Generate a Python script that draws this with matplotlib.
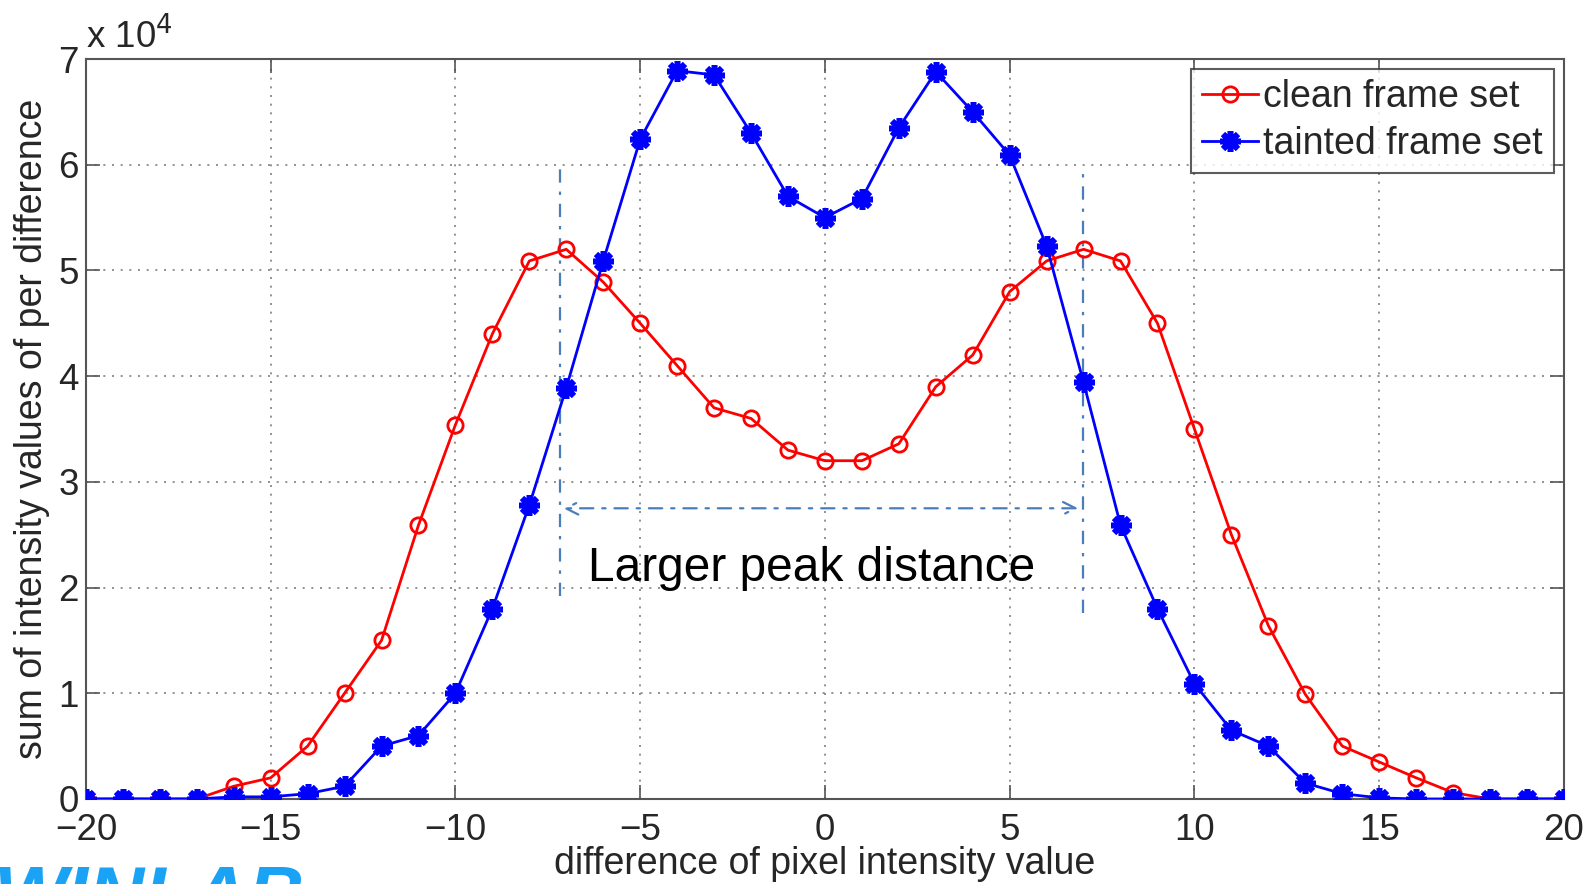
import matplotlib
matplotlib.use("Agg")
import matplotlib.pyplot as plt
import numpy as np

plt.rcParams['font.family'] = ['Liberation Sans', 'DejaVu Sans']

x_vals = list(range(-20, 21))
clean = [0, 0, 0, 0, 0.12, 0.2, 0.5, 1.0, 1.5, 2.59, 3.54, 4.4, 5.09, 5.2, 4.89,
         4.5, 4.1, 3.7, 3.6, 3.3, 3.2, 3.2, 3.36, 3.9, 4.2, 4.8, 5.09, 5.2, 5.09,
         4.5, 3.5, 2.5, 1.64, 0.99, 0.5, 0.35, 0.2, 0.06, 0, 0, 0]
tainted = [0, 0, 0, 0, 0.02, 0.02, 0.05, 0.12, 0.5, 0.6, 1.0, 1.8, 2.78, 3.89, 5.09,
           6.24, 6.89, 6.85, 6.3, 5.7, 5.5, 5.68, 6.35, 6.88, 6.5, 6.09, 5.23, 3.94,
           2.59, 1.8, 1.09, 0.65, 0.5, 0.15, 0.05, 0.01, 0, 0, 0, 0, 0]
x_ticks = [-20, -15, -10, -5, 0, 5, 10, 15, 20]
y_ticks = [0, 1, 2, 3, 4, 5, 6, 7]
series_labels = ["clean frame set", "tainted frame set"]
annot_text = "Larger peak distance"
left_peak_x, right_peak_x = -7.17, 6.98
left_line_y = (1.92, 6.0)
right_line_y = (1.76, 5.96)
arrow_y = 2.75
arrow_x = (-7.08, 6.85)

fig = plt.figure(figsize=(15.91, 8.84), dpi=100)
ax = fig.add_axes([0.054, 0.0962, 0.929, 0.837])

txt_col = '#262626'
ax.plot(x_vals, clean, color='#ff0000', lw=2.0, marker='o', ms=11,
        mfc='none', mec='#ff0000', mew=2.0, label=series_labels[0], zorder=3)
ax.plot(x_vals, tainted, color='#0000ff', lw=2.0, marker=(8, 2, 0), ms=15,
        mec='#0000ff', mew=4.0, label=series_labels[1], zorder=4)

ax.set_xlim(-20, 20)
ax.set_ylim(0, 7)
ax.set_xticks(x_ticks)
ax.set_yticks(y_ticks)
ax.set_xticklabels([('\u2212' + str(abs(t))) if t < 0 else str(t) for t in x_ticks])
ax.set_yticklabels([str(t) for t in y_ticks])
ax.tick_params(direction='in', length=10, width=1.2, top=True, right=True,
               labelsize=26.5, colors='#555555', labelcolor=txt_col)
ax.tick_params(axis='x', pad=10)
ax.tick_params(axis='y', pad=5)
for s in ax.spines.values():
    s.set_color('#555555')
    s.set_linewidth(1.5)
ax.grid(True, color='#808080', linestyle=(0, (1.2, 4)), linewidth=1.2)

ax.set_xlabel("difference of pixel intensity value", fontsize=27, color=txt_col, labelpad=-1)
ax.set_ylabel("sum of intensity values of per difference", fontsize=27, color=txt_col, labelpad=6)

ax.text(0.0, 1.004, "x 10$^{4}$", transform=ax.transAxes, fontsize=26.5,
        color=txt_col, ha='left', va='bottom')

ann_col = '#4a7ebb'
ax.plot([left_peak_x, left_peak_x], left_line_y, color=ann_col, lw=1.6,
        linestyle=(0, (6, 4, 1.5, 4)), zorder=2)
ax.plot([right_peak_x, right_peak_x], right_line_y, color=ann_col, lw=1.6,
        linestyle=(0, (6, 4, 1.5, 4)), zorder=2)
ax.annotate('', xy=(arrow_x[0], arrow_y), xytext=(arrow_x[1], arrow_y),
            arrowprops=dict(arrowstyle='<->,head_length=0.9,head_width=0.45',
                            color=ann_col, lw=1.6, linestyle=(0, (6, 4, 1.5, 4)),
                            shrinkA=0, shrinkB=0))
ax.text(-0.35, 2.18, annot_text, fontsize=34.5, color='black', ha='center', va='center')

leg = ax.legend(loc='upper right', bbox_to_anchor=(0.993, 0.987), fontsize=27,
                frameon=True, fancybox=False, borderpad=0.28, labelspacing=0.3,
                handlelength=1.5, handletextpad=0.15, borderaxespad=0)
leg.get_frame().set_edgecolor('#333333')
leg.get_frame().set_linewidth(1.5)
for t in leg.get_texts():
    t.set_color(txt_col)

fig.text(-0.004, 1 - 864 / 884, "WINLAB", fontsize=56, fontweight='bold', fontstyle='italic',
         color='#1aa3f5', ha='left', va='top')

fig.savefig("out.png", dpi=100)
